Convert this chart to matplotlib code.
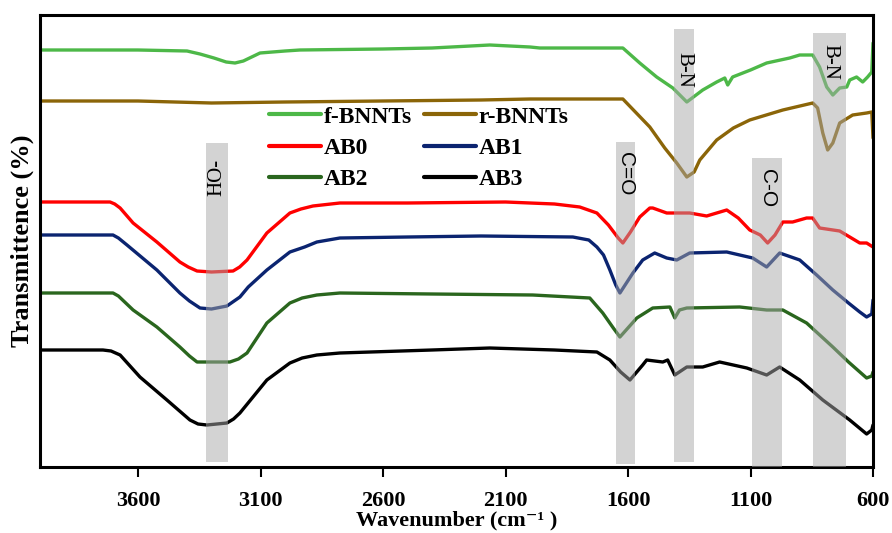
import matplotlib
matplotlib.use("Agg")
import matplotlib.pyplot as plt
from matplotlib.patches import Rectangle

# ---------------- data (wavenumber cm-1, transmittance a.u.) ----------------
f_wn = [4000, 3600, 3400, 3347, 3290, 3240, 3204, 3170, 3102, 3000, 2939, 2600, 2400,
        2164, 2000, 1960, 1800, 1621, 1552, 1483, 1417, 1360, 1295, 1238, 1205, 1193,
        1173, 1100, 1034, 940, 899, 846, 818, 789, 764, 736, 707, 695, 667, 642, 622,
        605, 600]
f_T = [417, 417, 416, 413, 409, 405, 404, 406, 414, 416, 417, 418, 419,
       422, 420, 419, 419, 419, 404, 390, 379, 365, 377, 385, 389, 382,
       390, 397, 404, 409, 412, 412, 400, 380, 372, 379, 380, 387, 390, 385, 390,
       395, 424]

r_wn = [4000, 3600, 3300, 3000, 2600, 2200, 2000, 1621, 1511, 1450, 1401, 1360, 1330,
        1307, 1238, 1170, 1103, 968, 846, 826, 805, 785, 764, 736, 683, 626, 605, 600]
r_T = [366, 366, 364, 365, 366, 367, 368, 368, 340, 319, 304, 290, 295,
       307, 327, 339, 347, 357, 364, 359, 334, 317, 324, 344, 352, 354, 355, 329]

ab0_wn = [4000, 3714, 3695, 3673, 3620, 3523, 3429, 3395, 3359, 3300, 3212, 3185, 3155,
          3074, 2980, 2935, 2886, 2776, 2500, 2100, 1900, 1797, 1727, 1680, 1640, 1621,
          1590, 1552, 1511, 1499, 1442, 1429, 1348, 1279, 1197, 1150, 1103, 1060, 1030,
          1000, 968, 928, 871, 846, 818, 736, 654, 626, 600]
ab0_T = [265, 265, 263, 259, 244, 225, 205, 200, 196, 195, 196, 200, 207,
         234, 254, 258, 261, 264, 264, 265, 263, 260, 254, 242, 229, 224,
         235, 250, 259, 259, 254, 254, 254, 251, 257, 249, 237, 232, 224,
         232, 245, 245, 249, 249, 239, 236, 224, 224, 220]

ab1_wn = [4000, 3702, 3680, 3645, 3523, 3429, 3390, 3347, 3300, 3237, 3184, 3150, 3074,
          2980, 2920, 2870, 2776, 2500, 2200, 1825, 1760, 1727, 1700, 1674, 1650, 1633,
          1580, 1540, 1491, 1442, 1401, 1348, 1197, 1091, 1034, 981, 899, 830, 764, 700,
          654, 626, 605, 600]
ab1_T = [232, 232, 229, 222, 197, 174, 166, 159, 158, 161, 170, 180, 197,
         215, 220, 225, 229, 230, 231, 230, 227, 220, 212, 197, 182, 174,
         194, 207, 214, 209, 207, 214, 215, 209, 200, 214, 207, 192, 177, 164,
         155, 150, 153, 167]

ab2_wn = [4000, 3702, 3680, 3620, 3523, 3429, 3390, 3359, 3225, 3190, 3155, 3074, 2980,
          2930, 2870, 2776, 2400, 1989, 1756, 1703, 1660, 1633, 1564, 1499, 1429, 1409,
          1390, 1360, 1144, 1034, 968, 871, 764, 700, 626, 605, 600]
ab2_T = [174, 174, 171, 157, 140, 120, 111, 105, 105, 108, 114, 144, 164,
         169, 172, 174, 173, 172, 169, 154, 139, 130, 149, 159, 160, 149,
         157, 159, 160, 157, 157, 144, 120, 105, 89, 91, 95]

ab3_wn = [4000, 3743, 3710, 3673, 3592, 3482, 3388, 3355, 3319, 3237, 3210, 3184, 3074,
          2980, 2930, 2870, 2776, 2400, 2164, 1900, 1727, 1674, 1630, 1592, 1540, 1524,
          1458, 1438, 1409, 1360, 1295, 1226, 1115, 1034, 981, 899, 805, 695, 626, 605,
          600]
ab3_T = [117, 117, 116, 112, 90, 67, 47, 43, 42, 44, 48, 54, 87,
         104, 109, 112, 114, 117, 119, 117, 115, 107, 95, 87, 102, 107,
         105, 107, 92, 100, 100, 105, 99, 92, 100, 87, 67, 47, 33, 37,
         42]

series_names = ["f-BNNTs", "r-BNNTs", "AB0", "AB1", "AB2", "AB3"]
series_wn = [f_wn, r_wn, ab0_wn, ab1_wn, ab2_wn, ab3_wn]
series_T = [f_T, r_T, ab0_T, ab1_T, ab2_T, ab3_T]
series_colors = ["#4DB848", "#8B6508", "#FF0000", "#0B2470", "#2A661E", "#000000"]

# band regions
band_labels = ["HO-", "C=O", "B-N", "C-O", "B-N"]
band_hi = [3323, 1647, 1413, 1094, 843]
band_lo = [3234, 1572, 1330, 971, 709]
band_bottom = [5, 3, 5, 0, 0]
band_top = [324, 325, 438, 309, 434]
band_text_T = [290, 293, 397, 279, 405]
band_rot = [90, -90, -90, -90, -90]
band_fonts = ["Liberation Serif", "Liberation Sans", "Liberation Serif",
              "Liberation Sans", "Liberation Serif"]

xticks = [3600, 3100, 2600, 2100, 1600, 1100, 600]

# ---------------- figure ----------------
fig = plt.figure(figsize=(8.92, 5.33), dpi=100)
ax = fig.add_axes([40 / 892, 66 / 533, 833 / 892, 452 / 533])

lines = {}
for name, wn, T, c in zip(series_names, series_wn, series_T, series_colors):
    ln, = ax.plot(wn, T, color=c, lw=2.4, label=name, solid_joinstyle="round",
                  solid_capstyle="round", zorder=2)
    lines[name] = ln

for lab, hi, lo, b, t, ty, rot, fam in zip(band_labels, band_hi, band_lo, band_bottom,
                                           band_top, band_text_T, band_rot, band_fonts):
    ax.add_patch(Rectangle((lo, b), hi - lo, t - b, facecolor="#a8a8a8",
                           edgecolor="none", alpha=0.5, zorder=3))
    ax.text((hi + lo) / 2, ty, lab, rotation=rot, ha="center", va="center",
            fontsize=15, family=[fam, "DejaVu Sans"], color="black", zorder=4)

ax.set_xlim(4000, 600)
ax.set_ylim(0, 452)
ax.set_xticks(xticks)
ax.set_xticklabels([str(v) for v in xticks], fontsize=16, fontweight="bold",
                   family="Liberation Serif")
ax.set_yticks([])
ax.tick_params(axis="x", direction="out", length=7, width=1.5, pad=10)
for s in ax.spines.values():
    s.set_linewidth(2.2)
    s.set_color("black")

ax.set_xlabel("Wavenumber (cm⁻¹ )", fontsize=16, fontweight="bold",
              family=["Liberation Serif", "DejaVu Serif"], labelpad=0)
ax.set_ylabel("Transmittence (%)", fontsize=19, fontweight="bold",
              family="Liberation Serif", labelpad=4)

order = ["f-BNNTs", "AB0", "AB2", "r-BNNTs", "AB1", "AB3"]
leg = ax.legend([lines[n] for n in order], order, loc="upper left",
                bbox_to_anchor=((269 - 40) / 833, (467 - 106) / 452),
                ncol=2, frameon=False, borderpad=0, borderaxespad=0,
                handlelength=2.2, handletextpad=0.12, columnspacing=0.5,
                labelspacing=0.42,
                prop={"family": "Liberation Serif", "weight": "bold", "size": 17})
for h in leg.get_lines():
    h.set_linewidth(3)

fig.savefig("out.png", dpi=100)
